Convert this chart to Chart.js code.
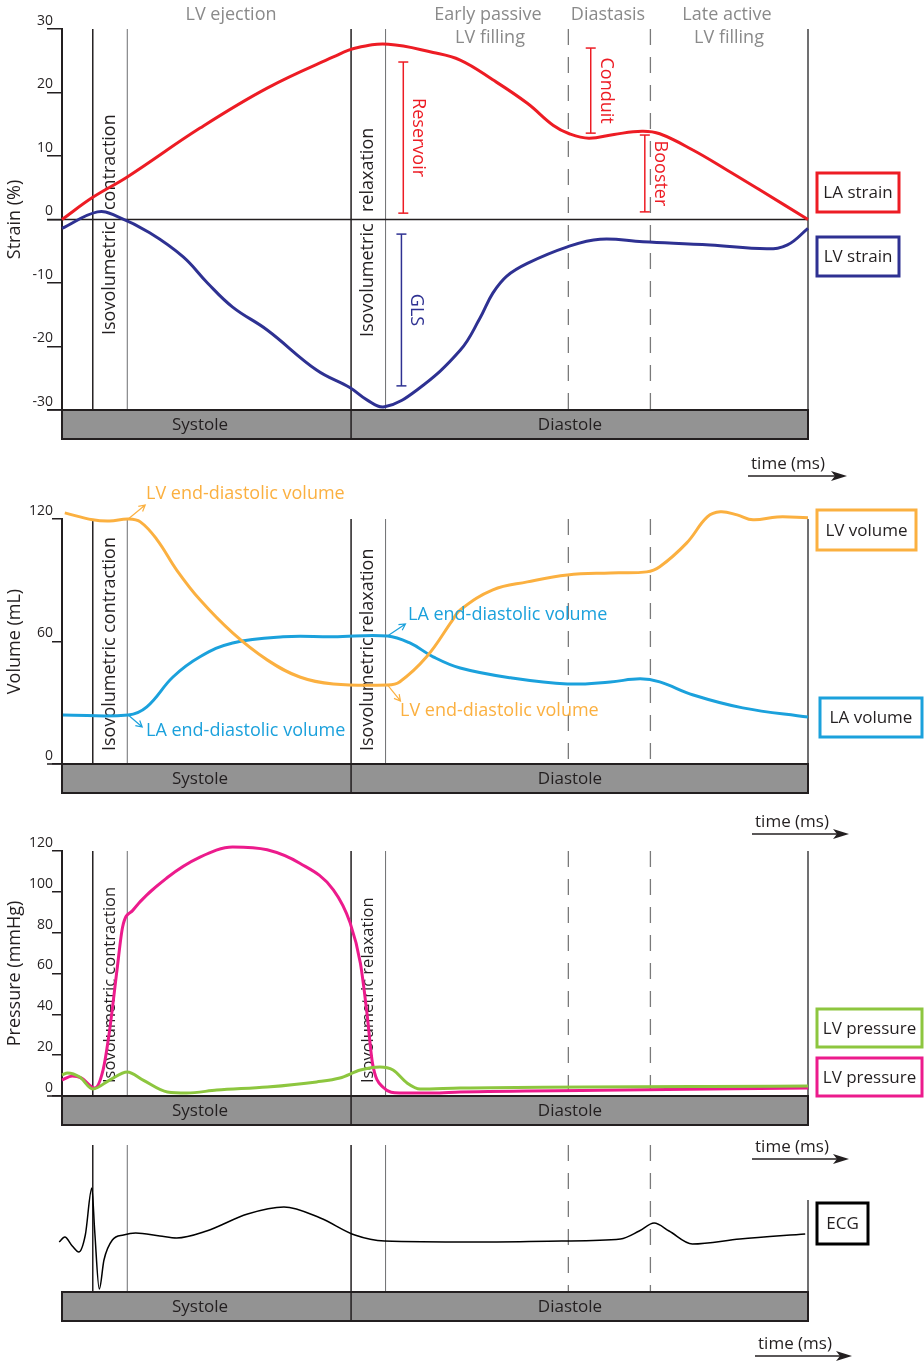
<!DOCTYPE html>
<html>
<head>
<meta charset="utf-8">
<title>Cardiac cycle: strain, volume, pressure, ECG</title>
<script src="https://cdn.jsdelivr.net/npm/chart.js@4.4.1/dist/chart.umd.min.js"></script>
<style>
  body { margin: 0; background: #fff; }
  #wrap { position: relative; width: 924px; height: 1364px; overflow: hidden; }
  canvas { position: absolute; left: 0; }
</style>
</head>
<body>
<div id="wrap">
  <canvas id="strain"></canvas>
  <canvas id="volume"></canvas>
  <canvas id="pressure"></canvas>
  <canvas id="ecg"></canvas>
</div>
<script>
// time axis in ms, one cardiac cycle drawn from 0 to 800
const cycleEnd = 800;
const solidMarks = [33, 310];   // start of isovolumetric contraction / relaxation
const thinMarks = [70, 347];    // end of isovolumetric phases
const dashedMarks = [543, 631]; // diastasis limits

// strain (%)
const strainTicks = [-30, -20, -10, 0, 10, 20, 30];
const laStrainT = [0, 33, 70, 148, 220, 291, 315, 350, 398, 427, 462, 499, 527, 544, 565, 592, 622, 641, 677, 713, 749, 800];
const laStrain = [0, 3.5, 6.7, 14.4, 20.7, 25.6, 27.0, 27.6, 26.3, 25.1, 22.0, 18.3, 14.8, 13.5, 12.8, 13.4, 13.9, 13.5, 10.9, 7.8, 4.6, 0];
const lvStrainT = [0, 38, 59, 94, 130, 156, 183, 220, 273, 309, 327, 346, 381, 427, 448, 462, 477, 499, 542, 577, 623, 695, 756, 778, 800];
const lvStrain = [-1.4, 1.2, 0.5, -2.1, -5.9, -10, -13.8, -17.4, -23.7, -26.5, -28.4, -29.5, -26.8, -20.6, -15.6, -11.6, -8.9, -6.9, -4.3, -3.1, -3.5, -4.0, -4.6, -4.0, -1.4];

// volume (mL)
const volumeTicks = [0, 60, 120];
const lvVolumeT = [3, 33, 51, 71, 84, 102, 123, 148, 183, 220, 255, 291, 349, 362, 391, 419, 427, 462, 499, 542, 588, 627, 641, 670, 692, 706, 724, 741, 767, 800];
const lvVolume = [123, 119.6, 119, 120, 118.6, 109.8, 95, 80.4, 64.2, 51, 42.6, 39.2, 38.7, 40.2, 52.5, 70.6, 75.5, 85.3, 89.2, 92.6, 93.6, 94.1, 96.6, 108.3, 121, 123.5, 122, 119.6, 121, 120.6];
const laVolumeT = [1, 71, 91, 119, 148, 183, 237, 291, 349, 373, 398, 427, 481, 542, 588, 620, 641, 677, 730, 800];
const laVolume = [24, 24, 28, 42.6, 52.5, 59.3, 62.3, 62.3, 62.7, 59.3, 52.5, 47, 42.2, 39.2, 40.2, 41.7, 40.2, 33.8, 27.5, 23];

// pressure (mmHg)
const pressureTicks = [0, 20, 40, 60, 80, 100, 120];
const pinkPressureT = [0, 11, 21, 35, 44, 51, 59, 65, 76, 113, 148, 183, 220, 255, 291, 309, 320, 327, 333, 344, 362, 398, 427, 577, 800];
const pinkPressure = [7.8, 9.8, 8.8, 3.9, 12.7, 32, 61.8, 82.8, 91, 107, 117, 122, 120.6, 114, 101, 84.8, 65, 40.7, 16, 4.4, 1.5, 1.5, 2.0, 2.8, 3.9];
const greenPressureT = [0, 6, 19, 33, 51, 70, 87, 113, 134, 166, 220, 273, 298, 320, 341, 355, 370, 384, 427, 800];
const greenPressure = [10.3, 11.3, 9.3, 3.4, 7.8, 11.8, 7.8, 2, 1.5, 2.9, 4.4, 6.9, 8.8, 12.7, 14.2, 12.7, 6.4, 3.4, 3.9, 4.9];

// ECG (mV, arbitrary baseline)
const ecgT = [-3, 3, 11, 18, 25, 32, 35, 40, 45, 54, 66, 79, 105, 123, 155, 199, 238, 277, 314, 346, 441, 536, 599, 619, 635, 651, 676, 727, 797];
const ecg = [0, 0.1, -0.08, -0.2, 0.14, 1.08, 0.24, -0.94, -0.36, 0.04, 0.14, 0.18, 0.12, 0.08, 0.22, 0.56, 0.7, 0.48, 0.14, 0.02, 0, 0.02, 0.06, 0.22, 0.38, 0.22, -0.04, 0.06, 0.16];

const INK = '#231f20';
const RED = '#ed1c24';
const NAVY = '#2e3192';
const ORANGE = '#fbb040';
const BLUE = '#1ba1dc';
const PINK = '#ec1b8c';
const GREEN = '#8dc63f';
const FONT = '"Open Sans", "Noto Sans", sans-serif';

function pts(ts, vs) {
  return ts.map((t, i) => ({ x: t, y: vs[i] }));
}

function vline(ctx, x, y0, y1, color, w, dash) {
  ctx.save();
  ctx.beginPath();
  ctx.strokeStyle = color;
  ctx.lineWidth = w;
  ctx.setLineDash(dash || []);
  ctx.moveTo(x, y0);
  ctx.lineTo(x, y1);
  ctx.stroke();
  ctx.restore();
}

function hline(ctx, x0, x1, y, color, w) {
  ctx.save();
  ctx.beginPath();
  ctx.strokeStyle = color;
  ctx.lineWidth = w;
  ctx.moveTo(x0, y);
  ctx.lineTo(x1, y);
  ctx.stroke();
  ctx.restore();
}

function text(ctx, s, x, y, color, size, align, angle) {
  ctx.save();
  ctx.translate(x, y);
  if (angle) ctx.rotate(angle);
  ctx.fillStyle = color;
  ctx.font = size + 'px ' + FONT;
  ctx.textAlign = align || 'center';
  ctx.textBaseline = 'middle';
  ctx.fillText(s, 0, 0);
  ctx.restore();
}

// one decoration plugin per panel: phase lines, phase bar, labels, boxes
function makeDecor(cfg) {
  const off = cfg.top;
  return {
    id: 'decor',
    beforeDatasetsDraw(chart) {
      const ctx = chart.ctx, ca = chart.chartArea;
      const xs = chart.scales.x, ys = chart.scales.y;
      const top = cfg.lineTop != null ? cfg.lineTop - off : ca.top;
      const bot = ca.bottom;

      (cfg.rotated || []).forEach(r => {
        text(ctx, r.text, r.x, r.y - off, INK, r.size || 18, 'left', -Math.PI / 2);
      });

      solidMarks.forEach(t => vline(ctx, xs.getPixelForValue(t), top, bot, INK, 1.5));
      thinMarks.forEach(t => vline(ctx, xs.getPixelForValue(t), top, bot, '#6d6e71', 1));
      dashedMarks.forEach(t => vline(ctx, xs.getPixelForValue(t), top, bot, '#7a7a7a', 1.3, [16, 12]));
      const endTop = cfg.endTop != null ? cfg.endTop - off : top;
      vline(ctx, xs.getPixelForValue(cycleEnd), endTop, bot, '#414042', 1.5);

      if (cfg.zeroLine) {
        hline(ctx, 47, xs.getPixelForValue(cycleEnd), ys.getPixelForValue(0), INK, 1.5);
      }
    },
    afterDatasetsDraw(chart) {
      const ctx = chart.ctx, ca = chart.chartArea;
      const xs = chart.scales.x, ys = chart.scales.y;

      // Systole / Diastole bar
      const x0 = xs.getPixelForValue(0), x1 = xs.getPixelForValue(cycleEnd);
      const by = ca.bottom, bh = 29;
      ctx.save();
      ctx.fillStyle = '#939393';
      ctx.fillRect(x0, by, x1 - x0, bh);
      ctx.strokeStyle = INK;
      ctx.lineWidth = 2;
      ctx.strokeRect(x0, by, x1 - x0, bh);
      ctx.restore();
      if (cfg.yAxis) hline(ctx, 47, x0, by, INK, 1.5);
      vline(ctx, xs.getPixelForValue(solidMarks[1]), by, by + bh, INK, 1.5);
      text(ctx, 'Systole', 200, by + bh / 2 + 1, INK, 17);
      text(ctx, 'Diastole', 570, by + bh / 2 + 1, INK, 17);

      // range brackets (strain panel)
      (cfg.brackets || []).forEach(b => {
        const bx = xs.getPixelForValue(b.t);
        const ya = ys.getPixelForValue(b.v0), yb = ys.getPixelForValue(b.v1);
        vline(ctx, bx, ya, yb, b.color, 1.5);
        hline(ctx, bx - 5, bx + 5, ya, b.color, 1.5);
        hline(ctx, bx - 5, bx + 5, yb, b.color, 1.5);
        text(ctx, b.label, bx + 15, (ya + yb) / 2, b.color, 18, 'center', Math.PI / 2);
      });

      // arrowed notes (volume panel)
      (cfg.notes || []).forEach(n => {
        const ax = xs.getPixelForValue(n.t), ay = ys.getPixelForValue(n.v);
        const ex = ax + n.dx, ey = ay + n.dy;
        ctx.save();
        ctx.strokeStyle = n.color;
        ctx.lineWidth = 1.2;
        ctx.beginPath();
        ctx.moveTo(ax, ay);
        ctx.lineTo(ex, ey);
        const ang = Math.atan2(ey - ay, ex - ax);
        ctx.moveTo(ex - 7 * Math.cos(ang - 0.5), ey - 7 * Math.sin(ang - 0.5));
        ctx.lineTo(ex, ey);
        ctx.lineTo(ex - 7 * Math.cos(ang + 0.5), ey - 7 * Math.sin(ang + 0.5));
        ctx.stroke();
        ctx.restore();
        text(ctx, n.text, n.x, n.y - off, n.color, 18, 'left');
      });

      // legend boxes
      (cfg.boxes || []).forEach(b => {
        ctx.save();
        ctx.fillStyle = '#fff';
        ctx.fillRect(b.x, b.y - off, b.w, b.h);
        ctx.strokeStyle = b.color;
        ctx.lineWidth = 3;
        ctx.strokeRect(b.x, b.y - off, b.w, b.h);
        ctx.restore();
        text(ctx, b.text, b.x + b.w / 2, b.y - off + b.h / 2 + 1, INK, 17);
      });

      (cfg.headers || []).forEach(h => text(ctx, h.text, h.x, h.y - off, '#8a8a8a', 18));

      // time arrow
      if (cfg.timeArrow) {
        const a = cfg.timeArrow, ay = a.y - off;
        text(ctx, 'time (ms)', a.x0 + 40, ay - 12, INK, 17);
        hline(ctx, a.x0, a.x1 - 10, ay, INK, 1.5);
        ctx.save();
        ctx.fillStyle = INK;
        ctx.beginPath();
        ctx.moveTo(a.x1, ay);
        ctx.lineTo(a.x1 - 16, ay - 5);
        ctx.lineTo(a.x1 - 12, ay);
        ctx.lineTo(a.x1 - 16, ay + 5);
        ctx.closePath();
        ctx.fill();
        ctx.restore();
      }
    }
  };
}

function lineSet(data, color, width, monotone) {
  const ds = {
    data: data,
    borderColor: color,
    borderWidth: width || 3,
    pointRadius: 0,
    fill: false,
    tension: 0.4,
    clip: false
  };
  if (monotone) ds.cubicInterpolationMode = 'monotone';
  return ds;
}

function makePanel(id, cfg) {
  const cv = document.getElementById(id);
  cv.width = 924;
  cv.height = cfg.height;
  cv.style.top = cfg.top + 'px';
  const tickLen = cfg.tickLen || 10;
  const y = cfg.yAxis ? {
    min: cfg.yMin, max: cfg.yMax,
    afterFit: s => { s.width = 62; },
    afterBuildTicks: s => { s.ticks = cfg.yTicks.map(v => ({ value: v })); },
    border: { display: true, color: INK, width: 2 },
    grid: { drawOnChartArea: false, tickLength: tickLen, color: INK, lineWidth: 1.5 },
    ticks: { font: { family: FONT, size: 14 }, color: INK, padding: 9 - tickLen, labelOffset: -8 },
    title: { display: true, text: cfg.yTitle, font: { family: FONT, size: 18 }, color: INK, padding: 4 }
  } : { display: false, min: cfg.yMin, max: cfg.yMax };

  return new Chart(cv, {
    type: 'line',
    data: { datasets: cfg.datasets },
    options: {
      responsive: false,
      animation: false,
      devicePixelRatio: 1,
      elements: { line: { capBezierPoints: false } },
      layout: {
        padding: {
          left: cfg.yAxis ? 0 : 62,
          right: 116,
          top: cfg.plotTop - cfg.top,
          bottom: cfg.top + cfg.height - cfg.plotBottom
        }
      },
      scales: {
        x: { type: 'linear', min: 0, max: cycleEnd, display: false },
        y: y
      },
      plugins: { legend: { display: false }, tooltip: { enabled: false } }
    },
    plugins: [makeDecor(cfg)]
  });
}

makePanel('strain', {
  top: 0, height: 490, plotTop: 29, plotBottom: 410,
  yAxis: true, yMin: -30, yMax: 30, yTicks: strainTicks, yTitle: 'Strain (%)', tickLen: 15,
  zeroLine: true,
  datasets: [lineSet(pts(laStrainT, laStrain), RED), lineSet(pts(lvStrainT, lvStrain), NAVY)],
  rotated: [
    { text: 'Isovolumetric', x: 110, y: 335 },
    { text: 'contraction', x: 110, y: 210 },
    { text: 'Isovolumetric', x: 368, y: 337 },
    { text: 'relaxation', x: 368, y: 212 }
  ],
  brackets: [
    { t: 366, v0: 24.8, v1: 1.0, color: RED, label: 'Reservoir' },
    { t: 364, v0: -2.3, v1: -26.2, color: NAVY, label: 'GLS' },
    { t: 567, v0: 27.0, v1: 13.6, color: RED, label: 'Conduit' },
    { t: 625, v0: 13.3, v1: 1.2, color: RED, label: 'Booster' }
  ],
  boxes: [
    { text: 'LA strain', x: 817, y: 173, w: 82, h: 39, color: RED },
    { text: 'LV strain', x: 817, y: 237, w: 82, h: 39, color: NAVY }
  ],
  headers: [
    { text: 'LV ejection', x: 231, y: 15 },
    { text: 'Early passive', x: 488, y: 15 },
    { text: 'LV filling', x: 490, y: 38 },
    { text: 'Diastasis', x: 608, y: 15 },
    { text: 'Late active', x: 727, y: 15 },
    { text: 'LV filling', x: 729, y: 38 }
  ],
  timeArrow: { x0: 748, x1: 847, y: 476 }
});

makePanel('volume', {
  top: 480, height: 370, plotTop: 519, plotBottom: 764,
  yAxis: true, yMin: 0, yMax: 120, yTicks: volumeTicks, yTitle: 'Volume (mL)', tickLen: 10,
  datasets: [lineSet(pts(lvVolumeT, lvVolume), ORANGE), lineSet(pts(laVolumeT, laVolume), BLUE)],
  rotated: [
    { text: 'Isovolumetric contraction', x: 110, y: 751 },
    { text: 'Isovolumetric relaxation', x: 368, y: 751 }
  ],
  notes: [
    { text: 'LV end-diastolic volume', x: 146, y: 494, color: ORANGE, t: 71, v: 120, dx: 17, dy: -14 },
    { text: 'LA end-diastolic volume', x: 146, y: 731, color: BLUE, t: 71, v: 24, dx: 14, dy: 12 },
    { text: 'LA end-diastolic volume', x: 408, y: 615, color: BLUE, t: 349, v: 62.7, dx: 18, dy: -12 },
    { text: 'LV end-diastolic volume', x: 400, y: 711, color: ORANGE, t: 349, v: 38.7, dx: 13, dy: 16 }
  ],
  boxes: [
    { text: 'LV volume', x: 817, y: 510, w: 99, h: 40, color: ORANGE },
    { text: 'LA volume', x: 820, y: 698, w: 102, h: 39, color: BLUE }
  ],
  timeArrow: { x0: 752, x1: 849, y: 834 }
});

makePanel('pressure', {
  top: 835, height: 335, plotTop: 851, plotBottom: 1096,
  yAxis: true, yMin: 0, yMax: 120, yTicks: pressureTicks, yTitle: 'Pressure (mmHg)', tickLen: 10,
  datasets: [lineSet(pts(greenPressureT, greenPressure), GREEN, 3, true), lineSet(pts(pinkPressureT, pinkPressure), PINK, 3, true)],
  rotated: [
    { text: 'Isovolumetric contraction', x: 110, y: 1083, size: 16.5 },
    { text: 'Isovolumetric relaxation', x: 368, y: 1083, size: 16.5 }
  ],
  boxes: [
    { text: 'LV pressure', x: 817, y: 1009, w: 105, h: 38, color: GREEN },
    { text: 'LV pressure', x: 817, y: 1058, w: 105, h: 38, color: PINK }
  ],
  timeArrow: { x0: 752, x1: 849, y: 1159 }
});

makePanel('ecg', {
  top: 1130, height: 234, plotTop: 1142, plotBottom: 1292,
  yAxis: false, yMin: -1, yMax: 2,
  lineTop: 1145, endTop: 1200,
  datasets: [lineSet(pts(ecgT, ecg), '#000', 1.5, true)],
  boxes: [
    { text: 'ECG', x: 817, y: 1203, w: 51, h: 41, color: '#000' }
  ],
  timeArrow: { x0: 755, x1: 852, y: 1356 }
});
</script>
</body>
</html>
